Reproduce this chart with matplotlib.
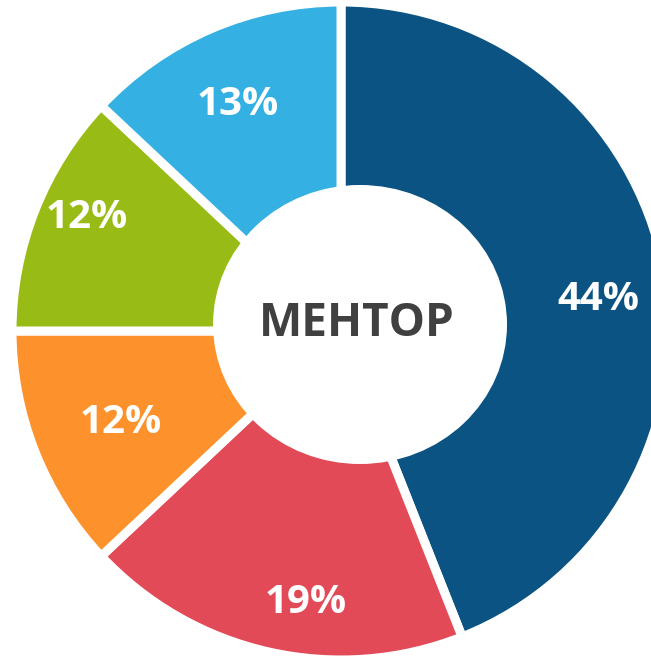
import numpy as np
import matplotlib
matplotlib.use("Agg")
import matplotlib.pyplot as plt
from matplotlib.patches import Ellipse

# data
shares = [44, 19, 12, 12, 13]
labels = ["44%", "19%", "12%", "12%", "13%"]
colors = ["#0B5383", "#E34A57", "#FD922C", "#98BC15", "#35B0E3"]
center_title = "МЕНТОР"

# layout (pixel units, y measured from the bottom)
W, H = 651, 656
cx, cy = 341, 325
R = 329
# label placement: radial distance and angular nudge from the wedge middle
label_r = [259, 274, 238, 278, 249]
label_da = [-3.9, 5.3, 0.9, -2.4, 1.0]

fig = plt.figure(figsize=(W / 100, H / 100), dpi=100)
ax = fig.add_axes([0, 0, 1, 1])

wedges, _ = ax.pie(shares, colors=colors, startangle=90, counterclock=False,
                   radius=R, center=(cx, cy),
                   explode=[0.012, 0, 0, 0, 0],
                   wedgeprops=dict(edgecolor="white", linewidth=6.5))

# white hole in the middle (slightly off-centre like the original)
ax.add_patch(Ellipse((360, H - 324.5), 294, 279, facecolor="white",
                     edgecolor="none", zorder=3))

font = ["Open Sans", "DejaVu Sans"]
for w, lab, r, da in zip(wedges, labels, label_r, label_da):
    ang = np.deg2rad((w.theta1 + w.theta2) / 2 + da)
    x = cx + r * np.cos(ang)
    y = cy + r * np.sin(ang)
    ax.text(x, y, lab, ha="center", va="center", color="white",
            fontsize=29, fontweight="bold", family=font, zorder=4)

ax.text(357, H - 324, center_title, ha="center", va="center",
        color="#404040", fontsize=33, fontweight="bold", family=font, zorder=4)

ax.set_xlim(0, W)
ax.set_ylim(0, H)
ax.set_aspect("auto")
ax.axis("off")

fig.savefig("out.png", dpi=100, facecolor="white")
